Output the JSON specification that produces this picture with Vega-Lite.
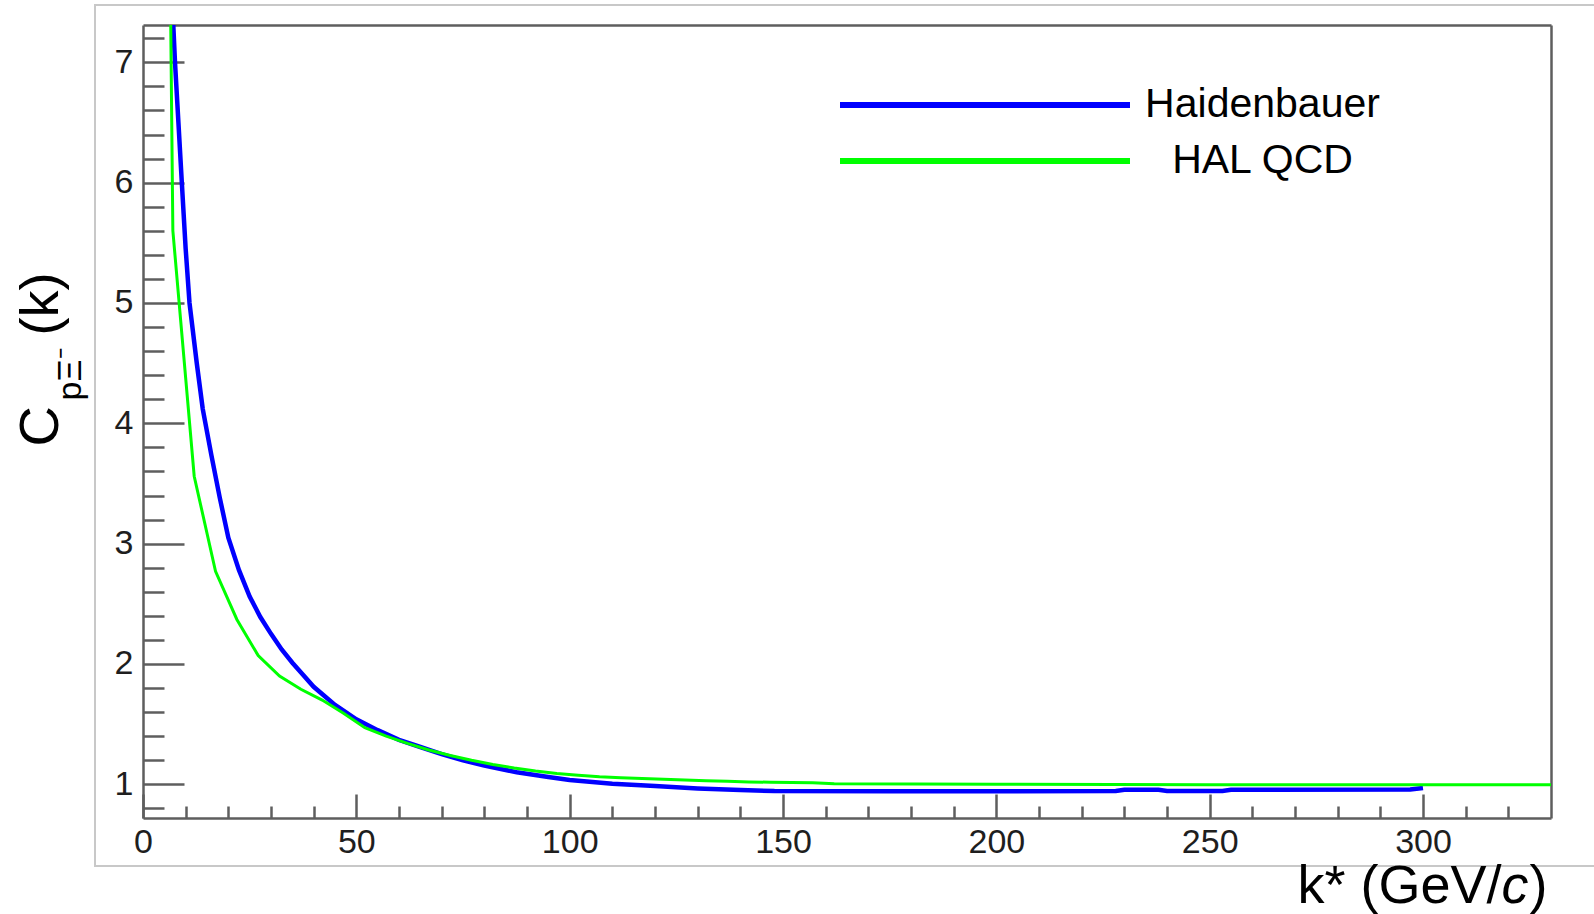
{
  "$schema": "https://vega.github.io/schema/vega-lite/v6.json",
  "width": 1500,
  "height": 861,
  "autosize": {"type": "none"},
  "padding": {"left": 95, "top": 5, "right": 0, "bottom": 48},
  "background": "white",
  "config": {
    "view": {"stroke": "#c8c8c8", "strokeWidth": 2},
    "font": "Liberation Sans",
    "axis": {
      "grid": false,
      "labelFont": "Liberation Sans",
      "titleFont": "Liberation Sans",
      "domainColor": "#5e5e5e",
      "domainWidth": 2.5,
      "tickColor": "#5e5e5e",
      "tickWidth": 2.5,
      "titleColor": "#000000",
      "titleFontWeight": "normal",
      "labelColor": "#1e1e1e"
    }
  },
  "datasets": {
    "curves": [
      {"model": "Haidenbauer", "k": 7.1, "C": 7.31},
      {"model": "Haidenbauer", "k": 7.5, "C": 7.0},
      {"model": "Haidenbauer", "k": 8.3, "C": 6.5},
      {"model": "Haidenbauer", "k": 9.1, "C": 6.0},
      {"model": "Haidenbauer", "k": 10.0, "C": 5.45},
      {"model": "Haidenbauer", "k": 10.9, "C": 5.0},
      {"model": "Haidenbauer", "k": 12.6, "C": 4.5},
      {"model": "Haidenbauer", "k": 14.0, "C": 4.12},
      {"model": "Haidenbauer", "k": 16.0, "C": 3.74},
      {"model": "Haidenbauer", "k": 18.0, "C": 3.38},
      {"model": "Haidenbauer", "k": 20.0, "C": 3.05},
      {"model": "Haidenbauer", "k": 22.5, "C": 2.78},
      {"model": "Haidenbauer", "k": 25.0, "C": 2.56},
      {"model": "Haidenbauer", "k": 27.5, "C": 2.39},
      {"model": "Haidenbauer", "k": 30.0, "C": 2.25},
      {"model": "Haidenbauer", "k": 32.5, "C": 2.12},
      {"model": "Haidenbauer", "k": 35.0, "C": 2.01},
      {"model": "Haidenbauer", "k": 37.5, "C": 1.91},
      {"model": "Haidenbauer", "k": 40.0, "C": 1.81},
      {"model": "Haidenbauer", "k": 45.0, "C": 1.66},
      {"model": "Haidenbauer", "k": 50.0, "C": 1.54},
      {"model": "Haidenbauer", "k": 55.0, "C": 1.45},
      {"model": "Haidenbauer", "k": 60.0, "C": 1.37},
      {"model": "Haidenbauer", "k": 65.0, "C": 1.31},
      {"model": "Haidenbauer", "k": 70.0, "C": 1.25},
      {"model": "Haidenbauer", "k": 75.0, "C": 1.2},
      {"model": "Haidenbauer", "k": 80.0, "C": 1.155},
      {"model": "Haidenbauer", "k": 87.6, "C": 1.1},
      {"model": "Haidenbauer", "k": 95.0, "C": 1.06},
      {"model": "Haidenbauer", "k": 100.0, "C": 1.035},
      {"model": "Haidenbauer", "k": 110.0, "C": 1.005},
      {"model": "Haidenbauer", "k": 120.0, "C": 0.985},
      {"model": "Haidenbauer", "k": 130.0, "C": 0.965},
      {"model": "Haidenbauer", "k": 140.0, "C": 0.952},
      {"model": "Haidenbauer", "k": 148.0, "C": 0.944},
      {"model": "Haidenbauer", "k": 175.0, "C": 0.943},
      {"model": "Haidenbauer", "k": 200.0, "C": 0.943},
      {"model": "Haidenbauer", "k": 228.0, "C": 0.944},
      {"model": "Haidenbauer", "k": 230.0, "C": 0.955},
      {"model": "Haidenbauer", "k": 238.0, "C": 0.955},
      {"model": "Haidenbauer", "k": 240.0, "C": 0.945},
      {"model": "Haidenbauer", "k": 253.0, "C": 0.945},
      {"model": "Haidenbauer", "k": 255.0, "C": 0.955},
      {"model": "Haidenbauer", "k": 297.0, "C": 0.956},
      {"model": "Haidenbauer", "k": 300.0, "C": 0.97},
      {"model": "HAL QCD", "k": 6.5, "C": 7.31},
      {"model": "HAL QCD", "k": 7.0, "C": 5.6},
      {"model": "HAL QCD", "k": 12.0, "C": 3.56},
      {"model": "HAL QCD", "k": 17.0, "C": 2.77},
      {"model": "HAL QCD", "k": 22.0, "C": 2.37},
      {"model": "HAL QCD", "k": 27.0, "C": 2.07},
      {"model": "HAL QCD", "k": 32.0, "C": 1.9},
      {"model": "HAL QCD", "k": 37.0, "C": 1.79},
      {"model": "HAL QCD", "k": 42.0, "C": 1.7},
      {"model": "HAL QCD", "k": 47.0, "C": 1.59},
      {"model": "HAL QCD", "k": 52.0, "C": 1.47},
      {"model": "HAL QCD", "k": 57.0, "C": 1.4},
      {"model": "HAL QCD", "k": 62.0, "C": 1.34},
      {"model": "HAL QCD", "k": 67.0, "C": 1.285},
      {"model": "HAL QCD", "k": 72.0, "C": 1.24},
      {"model": "HAL QCD", "k": 77.0, "C": 1.2},
      {"model": "HAL QCD", "k": 82.0, "C": 1.165},
      {"model": "HAL QCD", "k": 87.0, "C": 1.135},
      {"model": "HAL QCD", "k": 92.0, "C": 1.11},
      {"model": "HAL QCD", "k": 97.0, "C": 1.09},
      {"model": "HAL QCD", "k": 102.0, "C": 1.075},
      {"model": "HAL QCD", "k": 107.0, "C": 1.063},
      {"model": "HAL QCD", "k": 112.0, "C": 1.055},
      {"model": "HAL QCD", "k": 117.0, "C": 1.048},
      {"model": "HAL QCD", "k": 122.0, "C": 1.042},
      {"model": "HAL QCD", "k": 127.0, "C": 1.036},
      {"model": "HAL QCD", "k": 132.0, "C": 1.03},
      {"model": "HAL QCD", "k": 137.0, "C": 1.025},
      {"model": "HAL QCD", "k": 142.0, "C": 1.02},
      {"model": "HAL QCD", "k": 147.0, "C": 1.017},
      {"model": "HAL QCD", "k": 157.0, "C": 1.013},
      {"model": "HAL QCD", "k": 162.0, "C": 1.005},
      {"model": "HAL QCD", "k": 200.0, "C": 1.0},
      {"model": "HAL QCD", "k": 250.0, "C": 0.997},
      {"model": "HAL QCD", "k": 330.0, "C": 0.997}
    ]
  },
  "data": {"name": "curves"},
  "resolve": {"axis": {"x": "independent", "y": "independent"}},
  "layer": [
    {
      "transform": [{"filter": "datum.model === 'Haidenbauer'"}],
      "mark": {"type": "line", "strokeWidth": 4.5, "clip": false},
      "encoding": {
        "x": {
          "field": "k", "type": "quantitative",
          "scale": {"domain": [0, 330], "range": [48, 1456], "nice": false, "zero": false},
          "axis": {
            "orient": "bottom", "offset": -48,
            "values": [0, 50, 100, 150, 200, 250, 300],
            "ticks": false, "tickSize": 0,
            "labelFontSize": 34, "labelPadding": 7, "labelFlush": false, "labelOverlap": false,
            "domain": true,
            "title": "k* (GeV/", "titleFontSize": 54, "titleAngle": 0,
            "titleAlign": "left", "titleBaseline": "alphabetic",
            "titleX": 1202, "titleY": 84
          }
        },
        "y": {
          "field": "C", "type": "quantitative",
          "scale": {"domain": [0.72, 7.31], "range": [813, 20], "nice": false, "zero": false},
          "axis": {
            "orient": "left", "offset": -48,
            "values": [1, 2, 3, 4, 5, 6, 7],
            "ticks": false, "tickSize": 0,
            "labelFontSize": 34, "labelPadding": 10, "labelOverlap": false,
            "domain": true,
            "title": "C", "titleFontSize": 56, "titleAngle": -90,
            "titleAlign": "left", "titleBaseline": "alphabetic",
            "titleX": -86, "titleY": 441
          }
        },
        "color": {
          "field": "model", "type": "nominal",
          "scale": {"domain": ["Haidenbauer", "HAL QCD"], "range": ["#0000ff", "#00ff00"]},
          "legend": {
            "orient": "none", "legendX": 745, "legendY": 79.5, "title": null, "padding": 0,
            "direction": "vertical",
            "symbolType": "M-10,0H10", "symbolSize": 841, "symbolStrokeWidth": 6, "symbolOffset": 124.5,
            "labelFont": "Liberation Sans", "labelFontSize": 41, "labelColor": "#000000",
            "labelAlign": "center", "labelOffset": 257, "labelLimit": 500, "rowPadding": 14
          }
        }
      }
    },
    {
      "transform": [{"filter": "datum.model === 'HAL QCD'"}],
      "mark": {"type": "line", "strokeWidth": 3, "clip": false},
      "encoding": {
        "x": {
          "field": "k", "type": "quantitative",
          "scale": {"domain": [0, 330], "range": [48, 1456], "nice": false, "zero": false},
          "axis": {
            "orient": "bottom", "offset": -48,
            "values": [0, 50, 100, 150, 200, 250, 300],
            "ticks": true, "tickSize": -24,
            "labels": false, "domain": false,
            "title": "c", "titleFontSize": 54, "titleFontStyle": "italic", "titleAngle": 0,
            "titleAlign": "left", "titleBaseline": "alphabetic",
            "titleX": 1406, "titleY": 84
          }
        },
        "y": {
          "field": "C", "type": "quantitative",
          "scale": {"domain": [0.72, 7.31], "range": [813, 20], "nice": false, "zero": false},
          "axis": {
            "orient": "left", "offset": -48,
            "values": [1, 2, 3, 4, 5, 6, 7],
            "ticks": true, "tickSize": -41,
            "labels": false, "domain": false,
            "title": "pΞ⁻", "titleFontSize": 34, "titleAngle": -90,
            "titleAlign": "left", "titleBaseline": "alphabetic",
            "titleX": -63, "titleY": 395
          }
        },
        "color": {"field": "model", "type": "nominal"}
      }
    },
    {
      "transform": [{"filter": "datum.model === 'Haidenbauer'"}],
      "mark": {"type": "point", "opacity": 0},
      "encoding": {
        "x": {
          "field": "k", "type": "quantitative",
          "scale": {"domain": [0, 330], "range": [48, 1456], "nice": false, "zero": false},
          "axis": {
            "orient": "bottom", "offset": -48,
            "values": [10, 20, 30, 40, 60, 70, 80, 90, 110, 120, 130, 140, 160, 170, 180, 190, 210, 220, 230, 240, 260, 270, 280, 290, 310, 320],
            "ticks": true, "tickSize": -12,
            "labels": false, "domain": false,
            "title": ")", "titleFontSize": 54, "titleAngle": 0,
            "titleAlign": "left", "titleBaseline": "alphabetic",
            "titleX": 1434, "titleY": 84
          }
        },
        "y": {
          "field": "C", "type": "quantitative",
          "scale": {"domain": [0.72, 7.31], "range": [813, 20], "nice": false, "zero": false},
          "axis": {
            "orient": "left", "offset": -48,
            "values": [0.8, 1.2, 1.4, 1.6, 1.8, 2.2, 2.4, 2.6, 2.8, 3.2, 3.4, 3.6, 3.8, 4.2, 4.4, 4.6, 4.8, 5.2, 5.4, 5.6, 5.8, 6.2, 6.4, 6.6, 6.8, 7.2],
            "ticks": true, "tickSize": -21,
            "labels": false, "domain": false,
            "title": "(k)", "titleFontSize": 54, "titleAngle": -90,
            "titleAlign": "left", "titleBaseline": "alphabetic",
            "titleX": -86, "titleY": 330
          }
        }
      }
    },
    {
      "transform": [{"filter": "datum.model === 'HAL QCD'"}],
      "mark": {"type": "point", "opacity": 0},
      "encoding": {
        "x": {
          "field": "k", "type": "quantitative",
          "scale": {"domain": [0, 330], "range": [48, 1456], "nice": false, "zero": false},
          "axis": {
            "orient": "top", "offset": -20,
            "ticks": false, "labels": false, "domain": true, "title": null
          }
        },
        "y": {
          "field": "C", "type": "quantitative",
          "scale": {"domain": [0.72, 7.31], "range": [813, 20], "nice": false, "zero": false},
          "axis": {
            "orient": "right", "offset": -44,
            "ticks": false, "labels": false, "domain": true, "title": null
          }
        }
      }
    }
  ]
}
